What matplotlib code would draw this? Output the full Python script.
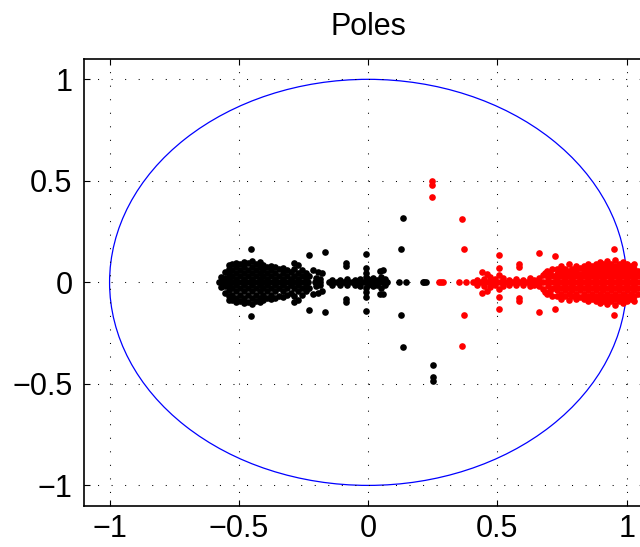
import numpy as np
import matplotlib
matplotlib.use('Agg')
import matplotlib.pyplot as plt
from matplotlib.patches import Circle

plt.rcParams['font.family'] = ['Liberation Sans', 'DejaVu Sans']

# black poles: complex pairs (upper half listed, conjugates added below)
black_re = [-0.57,
            -0.555, -0.555,
            -0.54, -0.54, -0.54, -0.54,
            -0.525, -0.525, -0.525,
            -0.51, -0.51, -0.51, -0.51,
            -0.495, -0.495, -0.495,
            -0.48, -0.48, -0.48, -0.48,
            -0.465, -0.465, -0.465,
            -0.45, -0.45, -0.45, -0.45,
            -0.435, -0.435, -0.435,
            -0.42, -0.42, -0.42, -0.42,
            -0.405, -0.405, -0.405,
            -0.39, -0.39, -0.39,
            -0.375, -0.375, -0.375,
            -0.36, -0.36, -0.36,
            -0.345, -0.345,
            -0.33, -0.33, -0.33,
            -0.315, -0.315,
            -0.30, -0.30,
            -0.285, -0.285, -0.285,
            -0.27, -0.27, -0.27,
            -0.255, -0.255,
            -0.24, -0.24,
            -0.228,
            -0.453, -0.227, -0.166, -0.213, -0.194, -0.177,
            -0.087, -0.087, -0.01, -0.01, -0.01, -0.01,
            0.045, 0.057, 0.05, 0.126, 0.135,
            -0.2, -0.185, -0.14, -0.11, -0.08, -0.05, -0.03, 0.0, 0.02, 0.035, 0.065]
black_im = [0.025,
            0.02, 0.05,
            0.015, 0.04, 0.065, 0.085,
            0.03, 0.06, 0.088,
            0.015, 0.045, 0.075, 0.097,
            0.03, 0.06, 0.092,
            0.015, 0.045, 0.075, 0.102,
            0.03, 0.06, 0.095,
            0.015, 0.045, 0.075, 0.105,
            0.03, 0.06, 0.092,
            0.015, 0.045, 0.075, 0.098,
            0.03, 0.06, 0.085,
            0.015, 0.045, 0.078,
            0.03, 0.06, 0.08,
            0.015, 0.045, 0.075,
            0.03, 0.065,
            0.015, 0.045, 0.072,
            0.03, 0.06,
            0.015, 0.05,
            0.03, 0.065, 0.095,
            0.015, 0.045, 0.085,
            0.03, 0.06,
            0.02, 0.045,
            0.03,
            0.165, 0.135, 0.148, 0.059, 0.052, 0.045,
            0.097, 0.08, 0.14, 0.072, 0.047, 0.028,
            0.055, 0.059, 0.028, 0.162, 0.317,
            0.02, 0.015, 0.012, 0.012, 0.015, 0.012, 0.018, 0.015, 0.02, 0.012, 0.015]
# black real poles
black_real = [-0.578, -0.562, -0.547, -0.532, -0.517, -0.502, -0.487, -0.472,
              -0.457, -0.442, -0.427, -0.412, -0.397, -0.382, -0.367, -0.352,
              -0.337, -0.322, -0.307, -0.292, -0.277, -0.262, -0.247, -0.232,
              -0.207, -0.188, -0.152, -0.137, -0.122, -0.107, -0.092, -0.077,
              -0.062, -0.047, -0.032, -0.017, -0.002, 0.012, 0.027, 0.042,
              0.057, 0.072, 0.118, 0.148, 0.212, 0.218, 0.225]
# black poles without a visible partner
black_single_re = [0.249, 0.249, 0.249]
black_single_im = [-0.407, -0.467, -0.484]

# red poles: complex pairs (upper half)
red_re = [0.364, 0.37, 0.439, 0.458, 0.507, 0.507, 0.507, 0.585, 0.585,
          0.662, 0.722, 0.949, 0.684, 0.69, 0.71,
          0.42, 0.45, 0.47, 0.49, 0.52, 0.545, 0.57, 0.6, 0.625, 0.64,
          0.66, 0.675, 0.695, 0.705, 0.715,
          0.73, 0.73, 0.73,
          0.745, 0.745, 0.745,
          0.76, 0.76, 0.76,
          0.775, 0.775, 0.775,
          0.79, 0.79, 0.79,
          0.805, 0.805, 0.805,
          0.82, 0.82, 0.82,
          0.835, 0.835, 0.835,
          0.85, 0.85, 0.85, 0.85,
          0.865, 0.865, 0.865,
          0.88, 0.88, 0.88, 0.88,
          0.895, 0.895, 0.895, 0.895,
          0.91, 0.91, 0.91, 0.91,
          0.925, 0.925, 0.925, 0.925,
          0.94, 0.94, 0.94, 0.94,
          0.955, 0.955, 0.955, 0.955,
          0.97, 0.97, 0.97, 0.97,
          0.985, 0.985, 0.985, 0.985,
          1.0, 1.0, 1.0, 1.0,
          1.015, 1.015, 1.015,
          1.03, 1.03, 1.03, 1.03,
          1.045, 1.045]
red_im = [0.313, 0.163, 0.052, 0.043, 0.133, 0.072, 0.034, 0.09, 0.075,
          0.147, 0.13, 0.163, 0.048, 0.055, 0.067,
          0.012, 0.018, 0.025, 0.015, 0.02, 0.012, 0.015, 0.012, 0.02, 0.012,
          0.02, 0.035, 0.02, 0.045, 0.03,
          0.015, 0.04, 0.065,
          0.03, 0.055, 0.08,
          0.015, 0.04, 0.065,
          0.03, 0.055, 0.088,
          0.015, 0.04, 0.065,
          0.03, 0.055, 0.08,
          0.015, 0.04, 0.07,
          0.03, 0.055, 0.08,
          0.015, 0.04, 0.065, 0.09,
          0.03, 0.055, 0.08,
          0.015, 0.04, 0.065, 0.09,
          0.03, 0.055, 0.08, 0.1,
          0.015, 0.04, 0.065, 0.09,
          0.03, 0.055, 0.08, 0.105,
          0.015, 0.04, 0.065, 0.09,
          0.03, 0.055, 0.08, 0.11,
          0.015, 0.04, 0.065, 0.09,
          0.03, 0.055, 0.08, 0.1,
          0.015, 0.04, 0.065, 0.09,
          0.03, 0.055, 0.08,
          0.015, 0.04, 0.065, 0.09,
          0.03, 0.055]
red_real = [0.273, 0.281, 0.29, 0.351, 0.377, 0.406, 0.42, 0.435, 0.45, 0.465,
            0.48, 0.495, 0.51, 0.525, 0.54, 0.555, 0.57, 0.585, 0.6, 0.615,
            0.63, 0.645, 0.66, 0.675, 0.69, 0.705, 0.72, 0.735, 0.75, 0.765,
            0.78, 0.795, 0.81, 0.825, 0.84, 0.855, 0.87, 0.885, 0.9, 0.915,
            0.93, 0.945, 0.96, 0.975, 0.99, 1.005, 1.02, 1.035, 1.05]
red_single_re = [0.247, 0.247, 0.247]
red_single_im = [0.497, 0.48, 0.418]

xticks = [-1, -0.5, 0, 0.5, 1]
yticks = [-1, -0.5, 0, 0.5, 1]


def poles(re, im, real, single_re, single_im):
    re = np.asarray(re)
    im = np.asarray(im)
    real = np.asarray(real)
    x = np.concatenate([re, re, real, single_re])
    y = np.concatenate([im, -im, np.zeros(len(real)), single_im])
    return x, y


fig = plt.figure(figsize=(6.4, 5.47), dpi=100)
ax = fig.add_axes([0.1308, 0.0755, 0.8888, 0.8166])

ax.add_patch(Circle((0, 0), 1, fill=False, color=(0, 0, 1), lw=0.9))

bx, by = poles(black_re, black_im, black_real, black_single_re, black_single_im)
rx, ry = poles(red_re, red_im, red_real, red_single_re, red_single_im)
ax.plot(bx, by, 'o', color='k', ms=4.8, mew=0)
ax.plot(rx, ry, 'o', color=(1, 0, 0), ms=4.8, mew=0)

ax.set_xlim(-1.1, 1.1)
ax.set_ylim(-1.1, 1.1)
ax.set_xticks(xticks)
ax.set_yticks(yticks)
ax.set_xticklabels(['\u22121', '\u22120.5', '0', '0.5', '1'])
ax.set_yticklabels(['\u22121', '\u22120.5', '0', '0.5', '1'])
ax.tick_params(direction='in', length=4.2, width=0.8, top=True, right=True,
               labelsize=22)
ax.tick_params(axis='x', pad=6)
ax.tick_params(axis='y', pad=8)
ax.grid(True, color='k', ls=(0, (1, 12)), lw=0.75)
for s in ax.spines.values():
    s.set_linewidth(1.2)

ax.set_title('Poles', fontsize=22, pad=17)

fig.savefig('out.png', dpi=100)
